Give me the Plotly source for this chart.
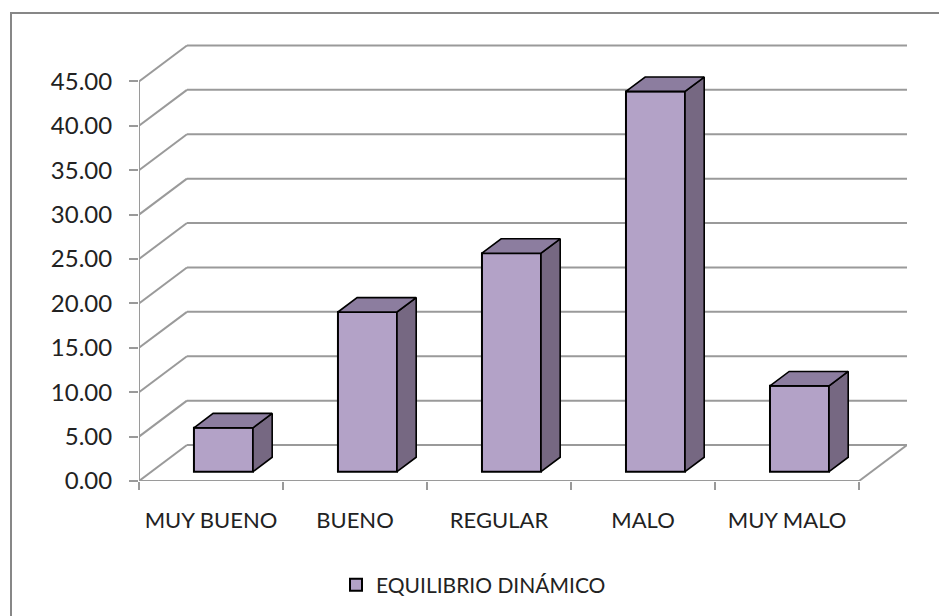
import plotly.graph_objects as go

# ---- data ----
categories = ["MUY BUENO", "BUENO", "REGULAR", "MALO", "MUY MALO"]
values = [4.94, 17.98, 24.60, 42.82, 9.66]
y_ticks = [0, 5, 10, 15, 20, 25, 30, 35, 40, 45]
y_tick_labels = [f"{v:.2f}" for v in y_ticks]
series_name = "EQUILIBRIO DINÁMICO"

# ---- style / projection ----
WALL_DX, WALL_DY = 0.333, 4.05      # oblique depth of the chart box (x units, y units)
BAR_FRONT = 0.26                    # depth fraction of bar front face
BAR_DEPTH = 0.40                    # depth fraction of bar thickness
BAR_WIDTH = 0.41
FRONT_C, SIDE_C, TOP_C = "#B3A2C7", "#766882", "#8C7D9F"
GRID_C = "#9A9A9A"
FONT = "Lato"

n = len(categories)
fdx, fdy = WALL_DX * BAR_FRONT, WALL_DY * BAR_FRONT
ddx, ddy = WALL_DX * BAR_DEPTH, WALL_DY * BAR_DEPTH

fig = go.Figure()

centers = [i + 0.5 + fdx for i in range(n)]
fig.add_trace(go.Bar(
    x=centers, y=values, base=[fdy] * n, width=BAR_WIDTH,
    marker=dict(color=FRONT_C, line=dict(color="black", width=2)),
    name=series_name, showlegend=True, hoverinfo="skip",
))

for c, v in zip(centers, values):
    xl, xr = c - BAR_WIDTH / 2, c + BAR_WIDTH / 2
    b, t = fdy, fdy + v
    # side face
    fig.add_trace(go.Scatter(
        x=[xr, xr + ddx, xr + ddx, xr, xr], y=[b, b + ddy, t + ddy, t, b],
        mode="lines", fill="toself", fillcolor=SIDE_C,
        line=dict(color="black", width=1.6), showlegend=False,
        hoverinfo="skip", cliponaxis=False))
    # top face
    fig.add_trace(go.Scatter(
        x=[xl, xr, xr + ddx, xl + ddx, xl], y=[t, t, t + ddy, t + ddy, t],
        mode="lines", fill="toself", fillcolor=TOP_C,
        line=dict(color="black", width=1.6), showlegend=False,
        hoverinfo="skip", cliponaxis=False))

shapes = []
line_style = dict(color=GRID_C, width=2)
for v in y_ticks:
    # left wall diagonal and back wall gridline
    shapes.append(dict(type="line", xref="x", yref="y", x0=0, y0=v,
                       x1=WALL_DX, y1=v + WALL_DY, line=line_style, layer="below"))
    shapes.append(dict(type="line", xref="x", yref="y", x0=WALL_DX, y0=v + WALL_DY,
                       x1=n + WALL_DX, y1=v + WALL_DY, line=line_style, layer="below"))
# value axis line
shapes.append(dict(type="line", xref="x", yref="y", x0=0, y0=0, x1=0, y1=max(y_ticks),
                   line=line_style, layer="below"))
# floor front edge and right diagonal
shapes.append(dict(type="line", xref="x", yref="y", x0=0, y0=0, x1=n, y1=0,
                   line=line_style, layer="below"))
shapes.append(dict(type="line", xref="x", yref="y", x0=n, y0=0, x1=n + WALL_DX, y1=WALL_DY,
                   line=line_style, layer="below"))
# outer chart frame
shapes.append(dict(type="rect", xref="paper", yref="paper",
                   x0=(11 - 139) / 768, y0=-0.6, x1=1.2, y1=(482 - 13) / 442,
                   line=dict(color="#878787", width=2), layer="below"))

fig.update_layout(
    width=939, height=616,
    margin=dict(l=139, r=32, t=40, b=134),
    paper_bgcolor="white", plot_bgcolor="white",
    shapes=shapes,
    barmode="overlay",
    xaxis=dict(range=[0, n + WALL_DX], tickmode="array",
               tickvals=[i + 0.5 for i in range(n)], ticktext=categories,
               ticks="", showgrid=False, zeroline=False, showline=False,
               ticklabelstandoff=24,
               tickfont=dict(family=FONT, size=22, color="#222"),
               minor=dict(tickmode="linear", tick0=0, dtick=1, ticks="outside",
                          ticklen=8, tickwidth=2, tickcolor=GRID_C, showgrid=False),
               fixedrange=True),
    yaxis=dict(range=[0, 442 / 8.9], tickmode="array", tickvals=y_ticks,
               ticktext=y_tick_labels, ticks="outside", ticklen=9, tickwidth=2,
               tickcolor=GRID_C, showgrid=False, zeroline=False, showline=False,
               ticklabelstandoff=12,
               tickfont=dict(family=FONT, size=24, color="#222"),
               fixedrange=True),
    legend=dict(orientation="h", x=(336 - 139) / 768, xanchor="left",
                y=(482 - 585) / 442, yanchor="middle",
                font=dict(family=FONT, size=21, color="#222"),
                itemwidth=30, bgcolor="rgba(0,0,0,0)"),
)

fig.write_html("out.html")
